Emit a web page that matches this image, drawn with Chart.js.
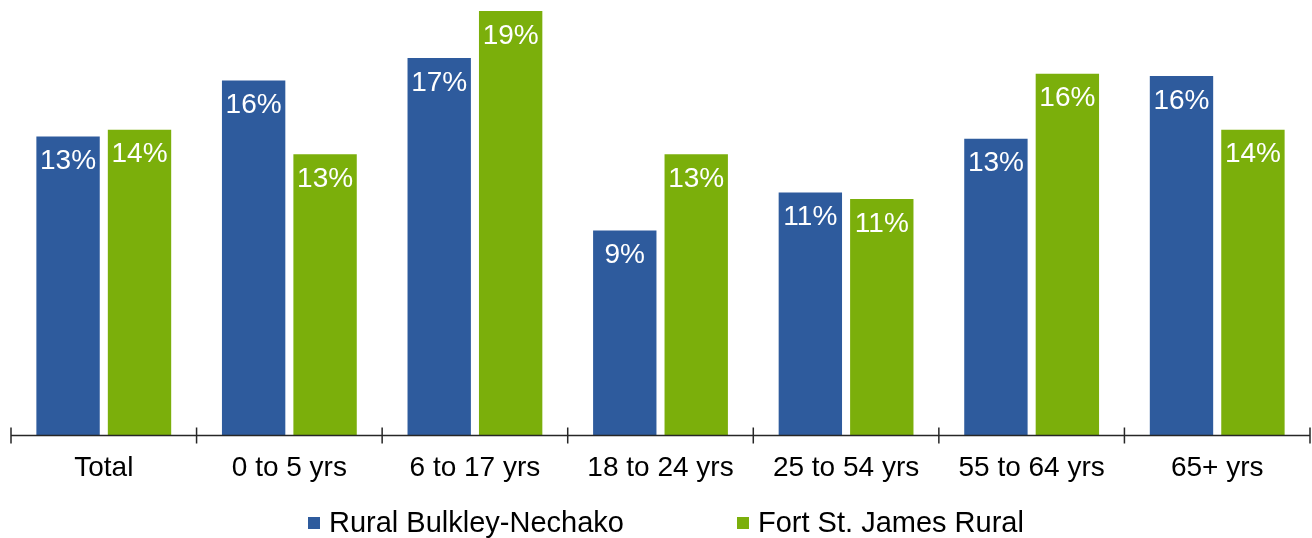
<!DOCTYPE html>
<html>
<head>
<meta charset="utf-8">
<script src="https://cdn.jsdelivr.net/npm/chart.js@4"></script>
<style>
  html, body { margin: 0; padding: 0; background: #fff; }
  #wrap { width: 1312px; height: 538px; }
</style>
</head>
<body>
<div id="wrap"><canvas id="myChart" width="1312" height="538"></canvas></div>
<script>
var categories = ['Total', '0 to 5 yrs', '6 to 17 yrs', '18 to 24 yrs', '25 to 54 yrs', '55 to 64 yrs', '65+ yrs'];
var seriesNames = ['Rural Bulkley-Nechako', 'Fort St. James Rural'];
var bulkleyValues = [13.4, 15.9, 16.9, 9.2, 10.9, 13.3, 16.1];
var fortValues = [13.7, 12.6, 19.0, 12.6, 10.6, 16.2, 13.7];
var colors = ['#2E5B9D', '#7BAF0B'];
var fontName = '"Liberation Sans", Arial, sans-serif';

// white % labels inside top of bars
var barLabels = {
    id: 'barLabels',
    afterDatasetsDraw: function(chart) {
        var ctx = chart.ctx;
        ctx.save();
        ctx.font = '28px ' + fontName;
        ctx.fillStyle = '#ffffff';
        ctx.textAlign = 'center';
        ctx.textBaseline = 'middle';
        chart.data.datasets.forEach(function(ds, i) {
            chart.getDatasetMeta(i).data.forEach(function(bar, j) {
                ctx.fillText(Math.round(ds.data[j]) + '%', bar.x, bar.y + 26);
            });
        });
        ctx.restore();
    }
};

// tick marks across the axis line at category boundaries
var axisTicks = {
    id: 'axisTicks',
    afterDraw: function(chart) {
        var ctx = chart.ctx;
        var xs = chart.scales.x;
        var y = chart.chartArea.bottom;
        var n = categories.length;
        ctx.save();
        ctx.strokeStyle = '#262626';
        ctx.lineWidth = 1.5;
        ctx.beginPath();
        ctx.moveTo(xs.left, y);
        ctx.lineTo(xs.right, y);
        for (var i = 0; i <= n; i++) {
            var x = xs.left + i * (xs.right - xs.left) / n;
            ctx.moveTo(x, y - 8);
            ctx.lineTo(x, y + 8);
        }
        ctx.stroke();
        ctx.restore();
    }
};

// legend drawn by hand so the items can sit far apart
var bottomLegend = {
    id: 'bottomLegend',
    afterDraw: function(chart) {
        var ctx = chart.ctx;
        var mid = chart.width / 2;
        var starts = [mid - 348, mid + 81];
        var y = 523;
        ctx.save();
        ctx.font = '29px ' + fontName;
        ctx.textBaseline = 'middle';
        ctx.textAlign = 'left';
        seriesNames.forEach(function(name, i) {
            ctx.fillStyle = colors[i];
            ctx.fillRect(starts[i], y - 6, 12, 12);
            ctx.fillStyle = '#000000';
            ctx.fillText(name, starts[i] + 21, y + 1);
        });
        ctx.restore();
    }
};

var ctx = document.getElementById('myChart').getContext('2d');
var myChart = new Chart(ctx, {
    type: 'bar',
    data: {
        labels: categories,
        datasets: [
            {
                label: seriesNames[0],
                data: bulkleyValues,
                backgroundColor: colors[0],
                borderColor: 'rgba(255,255,255,0.6)',
                borderWidth: 1,
                categoryPercentage: 0.77,
                barPercentage: 0.915
            },
            {
                label: seriesNames[1],
                data: fortValues,
                backgroundColor: colors[1],
                borderColor: 'rgba(255,255,255,0.6)',
                borderWidth: 1,
                categoryPercentage: 0.77,
                barPercentage: 0.915
            }
        ]
    },
    options: {
        responsive: false,
        animation: false,
        layout: { padding: { left: 11, right: 2, top: 0, bottom: 37 } },
        plugins: {
            legend: { display: false },
            tooltip: { enabled: false }
        },
        scales: {
            x: {
                grid: { display: false, drawTicks: false },
                border: { display: false },
                ticks: {
                    color: '#000000',
                    padding: 16,
                    maxRotation: 0,
                    font: { family: fontName, size: 28 }
                }
            },
            y: {
                display: false,
                min: 0,
                max: 19.45
            }
        }
    },
    plugins: [barLabels, axisTicks, bottomLegend]
});
</script>
</body>
</html>
